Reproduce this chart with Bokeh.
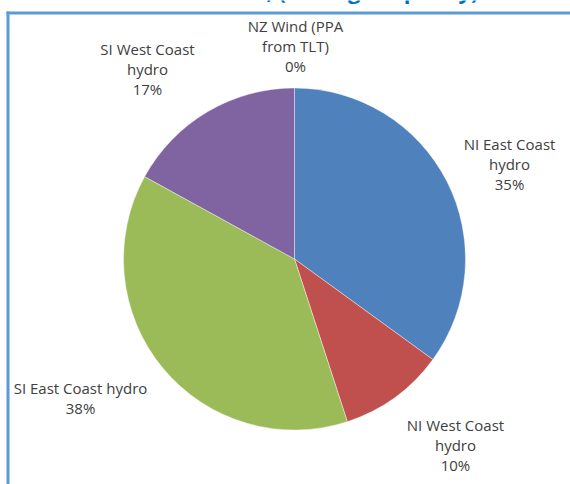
import numpy as np
from bokeh.plotting import figure
from bokeh.models import ColumnDataSource, Range1d
from bokeh.core.properties import value
from bokeh.embed import file_html
from bokeh.resources import INLINE

# Share of average generation capacity by source (%)
categories = ["NI East Coast hydro", "NI West Coast hydro", "SI East Coast hydro",
              "SI West Coast hydro", "NZ Wind (PPA from TLT)"]
label_names = ["NI East Coast\nhydro", "NI West Coast\nhydro", "SI East Coast hydro",
               "SI West Coast\nhydro", "NZ Wind (PPA\nfrom TLT)"]
shares = [35, 10, 38, 17, 0]
colors = ["#4F81BD", "#C0504D", "#9BBB59", "#8064A2", "#F79646"]
title_text = "Source mix, (average capacity)"

W, H = 570, 484
CX, CY, R = 294, H - 258.5, 171        # pie centre / radius in canvas units
# label block centres (canvas x, canvas y measured from the top)
label_pos = [(509, 163), (455, 444), (80, 397), (147, 68), (295, 45)]

vals = np.array(shares, dtype=float)
frac = vals / vals.sum()
cum = np.concatenate([[0.0], np.cumsum(frac)])
start = np.pi / 2 - 2 * np.pi * cum[:-1]
end = np.pi / 2 - 2 * np.pi * cum[1:]

keep = vals > 0
wedges = ColumnDataSource(dict(
    start=start[keep], end=end[keep],
    color=[c for c, k in zip(colors, keep) if k],
))

labels = ColumnDataSource(dict(
    x=[p[0] for p in label_pos],
    y=[H - p[1] for p in label_pos],
    text=[f"{n}\n{v:.0f}%" for n, v in zip(label_names, shares)],
))

p = figure(width=W, height=H, output_backend="svg", toolbar_location=None,
           x_range=Range1d(0, W), y_range=Range1d(0, H),
           min_border=0, min_border_left=0, min_border_right=0,
           min_border_top=0, min_border_bottom=0)
p.axis.visible = False
p.grid.visible = False
p.outline_line_color = None
p.background_fill_color = "white"
p.border_fill_color = "white"

p.wedge(x=CX, y=CY, radius=R, start_angle="start", end_angle="end",
        direction="clock", fill_color="color", line_color="white",
        line_alpha=0.4, line_width=1, source=wedges)

p.text(x="x", y="y", text="text", source=labels, text_align="center",
       text_baseline="middle", text_font=value("Open Sans"),
       text_font_size="15px", text_color="#404040", text_line_height=1.0)

# heading of the surrounding page, running off the top edge
p.text(x=[478], y=[H + 11], text=[title_text], text_align="right",
       text_baseline="alphabetic", text_font=value("Open Sans"),
       text_font_size="22px", text_font_style="bold", text_color="#0070C0")

# frame around the chart
p.line(x=[6, W], y=[H - 12.5, H - 12.5], line_color="#5B9BD5", line_width=3)
p.line(x=[7.5, 7.5], y=[0, H - 11], line_color="#5B9BD5", line_width=3)

open("out.html", "w").write(file_html(p, INLINE))
